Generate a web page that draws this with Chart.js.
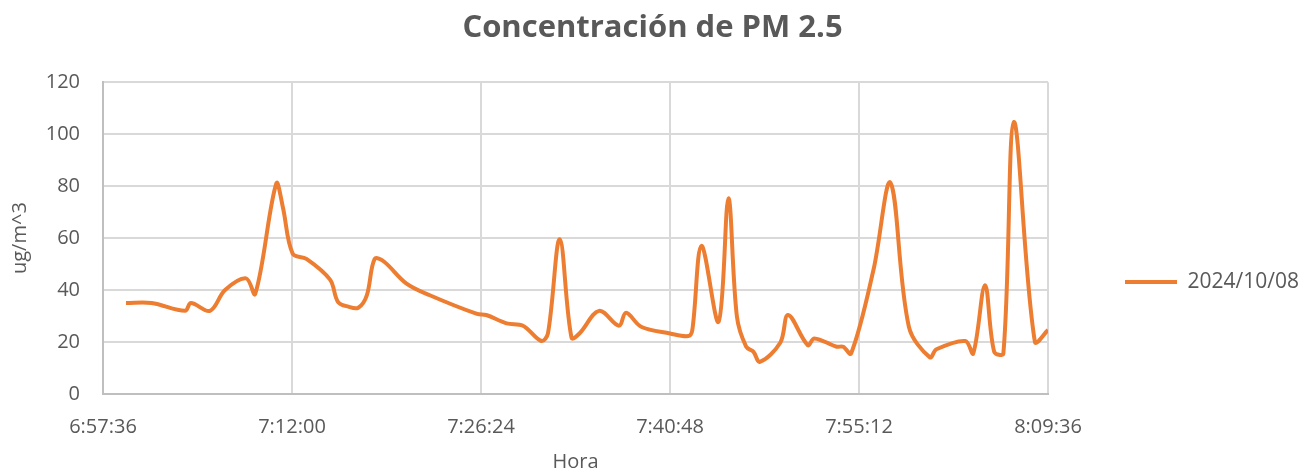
<!DOCTYPE html>
<html>
<head>
<meta charset="utf-8">
<script src="https://cdn.jsdelivr.net/npm/chart.js@4.4.1/dist/chart.umd.min.js"></script>
<style>
  html, body { margin: 0; padding: 0; background: #fff; }
  #wrap { width: 1305px; height: 474px; position: relative; }
</style>
</head>
<body>
<div id="wrap"><canvas id="pm-chart"></canvas></div>
<script>
'use strict';

// ---- Data ----
var chartTitle = 'Concentración de PM 2.5';
var seriesLabel = '2024/10/08';
var xTitle = 'Hora';
var yTitle = 'ug/m^3';

var times = [
  '6:59:21', '7:01:18', '7:03:51', '7:04:18', '7:05:45', '7:06:54', '7:08:30', '7:09:12',
  '7:10:48', '7:11:18', '7:12:03', '7:13:06', '7:14:54', '7:15:30', '7:16:18', '7:17:03',
  '7:17:42', '7:18:18', '7:19:00', '7:20:42', '7:22:30', '7:26:06', '7:26:48', '7:28:21',
  '7:29:36', '7:31:00', '7:31:30', '7:32:24', '7:33:18', '7:33:54', '7:35:24', '7:36:54',
  '7:37:27', '7:38:36', '7:40:48', '7:42:12', '7:42:30', '7:43:12', '7:44:30', '7:45:15',
  '7:45:54', '7:46:36', '7:47:09', '7:47:39', '7:49:12', '7:49:48', '7:51:18', '7:51:48',
  '7:53:30', '7:54:00', '7:54:36', '7:56:18', '7:57:36', '7:59:00', '8:00:36', '8:01:06',
  '8:03:18', '8:03:54', '8:04:48', '8:05:30', '8:06:12', '8:07:00', '8:08:36', '8:09:36'
];

var pm25 = [
  35, 35, 32, 35, 32, 40, 44.5, 38.5,
  81, 72, 54, 52, 44, 35.5, 33.6, 33.2,
  38, 52, 51, 42.6, 38, 30.8, 30.4, 27.2,
  26.3, 20.4, 23.3, 59.6, 21.6, 23.3, 32, 26.3,
  31.3, 25.9, 23.3, 22.3, 24.6, 57, 27.8, 75.3,
  29.7, 18.2, 16.3, 12.4, 19.7, 30.4, 18.8, 21.4,
  18.2, 18.2, 15.6, 47.7, 81.3, 25.9, 14.1, 17.2,
  20.4, 15.6, 41.9, 16.3, 15.6, 104.7, 20.1, 24.6
];

var xTicks = ['6:57:36', '7:12:00', '7:26:24', '7:40:48', '7:55:12', '8:09:36'];
var yTicks = [0, 20, 40, 60, 80, 100, 120];

// ---- Helpers ----
function toSec(t) {
  var p = t.split(':');
  return (+p[0]) * 3600 + (+p[1]) * 60 + (+p[2]);
}

function fmtTime(sec) {
  sec = Math.round(sec);
  var h = Math.floor(sec / 3600);
  var m = Math.floor((sec % 3600) / 60);
  var s = sec % 60;
  return h + ':' + (m < 10 ? '0' : '') + m + ':' + (s < 10 ? '0' : '') + s;
}

var FONT = "'Open Sans', 'DejaVu Sans', sans-serif";
var TEXT = '#595959';
var GRID = '#d9d9d9';

// legend sits a bit away from the plot, fixed width like the original
var legendWidth = {
  id: 'legendWidth',
  afterInit: function(chart) {
    var legend = chart.legend;
    if (!legend) return;
    var fit = legend.fit;
    legend.fit = function() {
      fit.call(this);
      this.width = 190;
    };
  }
};

var points = times.map(function(t, i) { return { x: toSec(t), y: pm25[i] }; });

new Chart(document.getElementById('pm-chart'), {
  type: 'line',
  data: {
    datasets: [{
      label: seriesLabel,
      data: points,
      borderColor: '#ed7d31',
      backgroundColor: '#ed7d31',
      borderWidth: 4,
      pointRadius: 0,
      pointHoverRadius: 0,
      tension: 0.35,
      fill: false,
      clip: 0,
    }],
  },
  options: {
    responsive: true,
    maintainAspectRatio: false,
    animation: false,
    layout: { padding: { left: 0, right: 0, top: 0, bottom: 0 } },
    plugins: {
      title: {
        display: true,
        text: chartTitle,
        color: TEXT,
        font: { family: FONT, size: 31, weight: 'bold' },
        padding: { top: 10, bottom: 35 },
      },
      legend: {
        position: 'right',
        // empty title just pushes the single entry down to where Excel put it
        title: {
          display: true,
          text: ' ',
          font: { family: FONT, size: 20 },
          padding: { top: 0, bottom: 66 },
        },
        labels: {
          color: TEXT,
          font: { family: FONT, size: 21 },
          usePointStyle: true,
          pointStyle: 'line',
          pointStyleWidth: 52,
          padding: 10,
        },
      },
      tooltip: { enabled: false },
    },
    scales: {
      x: {
        type: 'linear',
        min: toSec(xTicks[0]),
        max: toSec(xTicks[xTicks.length - 1]),
        afterBuildTicks: function(s) {
          s.ticks = xTicks.map(function(t) { return { value: toSec(t) }; });
        },
        ticks: {
          color: TEXT,
          font: { family: FONT, size: 20 },
          padding: 21,
          maxRotation: 0,
          autoSkip: false,
          callback: function(v) { return fmtTime(v); },
        },
        grid: { color: GRID, lineWidth: 2, drawTicks: false },
        border: { color: '#bfbfbf', width: 2 },
        title: {
          display: true,
          text: xTitle,
          color: TEXT,
          font: { family: FONT, size: 20 },
          padding: { top: 4, bottom: 0 },
        },
        afterFit: function(s) { s.height = 80; },
      },
      y: {
        min: yTicks[0],
        max: yTicks[yTicks.length - 1],
        afterBuildTicks: function(s) {
          s.ticks = yTicks.map(function(v) { return { value: v }; });
        },
        ticks: {
          color: TEXT,
          font: { family: FONT, size: 20 },
          padding: 23,
        },
        grid: { color: GRID, lineWidth: 2, drawTicks: false },
        border: { color: '#bfbfbf', width: 2 },
        title: {
          display: true,
          text: yTitle,
          color: TEXT,
          font: { family: FONT, size: 20 },
          padding: { top: 8, bottom: 0 },
        },
        afterFit: function(s) { s.width = 103; },
      },
      gap: {
        position: 'right',
        display: true,
        ticks: { display: false },
        grid: { display: false },
        border: { display: false },
        afterFit: function(s) { s.width = 67; },
      },
    },
  },
  plugins: [legendWidth],
});
</script>
</body>
</html>
